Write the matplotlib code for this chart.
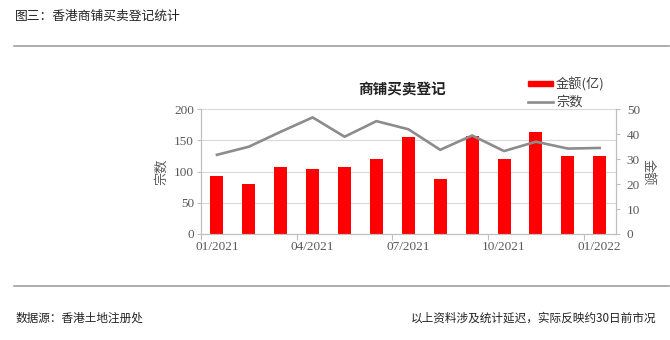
import matplotlib
matplotlib.use('Agg')
import matplotlib.pyplot as plt
from matplotlib.lines import Line2D
from matplotlib.patches import Rectangle

CJK = ['Noto Sans CJK SC', 'DejaVu Sans']
NUM = ['Liberation Serif', 'DejaVu Serif']

months = ['01/2021', '02/2021', '03/2021', '04/2021', '05/2021', '06/2021', '07/2021',
          '08/2021', '09/2021', '10/2021', '11/2021', '12/2021', '01/2022']
amount = [23.3, 19.9, 26.9, 26.1, 26.9, 29.9, 38.9, 21.9, 39.3, 30.2, 40.9, 31.4, 31.3]   # 金额(亿)
deals = [127, 140, 164, 187, 156, 181, 168, 135, 158, 133, 148, 137, 138]                 # 宗数

red = '#FF0000'
grey_line = '#8C8C8C'
axis_col = '#BFBFBF'
txt_col = '#595959'

fig = plt.figure(figsize=(6.7, 3.4), dpi=100)

# page header / footer
fig.text(15 / 670, 1 - 16 / 340, '图三：香港商铺买卖登记统计', family=CJK, fontsize=9.2,
         color='#222222', va='center', ha='left')
fig.add_artist(Line2D([14 / 670, 669 / 670], [1 - 46.3 / 340] * 2, color='#A0A0A0', lw=1.2))
fig.add_artist(Line2D([14 / 670, 669 / 670], [1 - 286.3 / 340] * 2, color='#A0A0A0', lw=1.2))
fig.text(15 / 670, 1 - 318 / 340, '数据源：香港土地注册处', family=CJK, fontsize=8.4,
         style='italic', color='#222222', va='center', ha='left')
fig.text(656 / 670, 1 - 318 / 340, '以上资料涉及统计延迟，实际反映约30日前市况', family=CJK,
         fontsize=8.4, style='italic', color='#222222', va='center', ha='right')

ax = fig.add_axes([201 / 670, 1 - 234 / 340, (615.7 - 201) / 670, (234 - 109.3) / 340])
ax2 = ax.twinx()

x = list(range(len(months)))
ax2.bar(x, amount, width=0.41, color=red, zorder=2)
ax.plot(x, deals, color=grey_line, lw=1.9, zorder=3)

ax.set_zorder(ax2.get_zorder() + 1)
ax.patch.set_visible(False)

ax.set_xlim(-0.5, len(months) - 0.5)
ax.set_ylim(0, 200)
ax.set_yticks([0, 50, 100, 150, 200])
ax2.set_ylim(0, 50)
ax2.set_yticks([0, 10, 20, 30, 40, 50])

# tick marks at month boundaries, labels at mid-month
ax.set_xticks([i - 0.5 for i in range(0, len(months), 3)])
ax.set_xticklabels([])
ax.set_xticks(x[::3], minor=True)
ax.set_xticklabels(months[::3], minor=True)
ax.tick_params(axis='x', which='major', length=4, color=axis_col, direction='out')
ax.tick_params(axis='x', which='minor', length=0, pad=5, labelsize=9.5, labelcolor=txt_col)

ax.tick_params(axis='y', length=3, color=axis_col, pad=2, labelsize=9.5, labelcolor=txt_col)
ax2.tick_params(axis='y', length=3, color=axis_col, pad=5, labelsize=9.5, labelcolor=txt_col)
for a in (ax, ax2):
    for lab in a.get_xticklabels(minor=True) + a.get_yticklabels():
        lab.set_family(NUM)
    a.spines['top'].set_visible(False)
    for s in ('left', 'right', 'bottom'):
        a.spines[s].set_color(axis_col)
        a.spines[s].set_linewidth(0.8)

# horizontal grid at the left-axis ticks, kept under the bars
for yv in [50, 100, 150, 200]:
    ax2.axhline(yv / 4, color='#D9D9D9', lw=0.8, zorder=0)

ax.set_ylabel('宗数', family=CJK, fontsize=9.5, color=txt_col, labelpad=4)
fig.text(648 / 670, 1 - 172 / 340, '金额', family=CJK, fontsize=9.5, color=txt_col,
         rotation=-90, va='center', ha='center')

fig.text(402 / 670, 1 - 89 / 340, '商铺买卖登记', family=CJK, fontsize=10.5,
         weight='bold', color='#222222', va='center', ha='center')

# legend
fig.add_artist(Rectangle((527.7 / 670, 1 - 86 / 340), 25.3 / 670, 4.8 / 340,
                         transform=fig.transFigure, color=red))
fig.text(556 / 670, 1 - 84 / 340, '金额(亿)', family=CJK, fontsize=9.5, color='#404040',
         va='center', ha='left')
fig.add_artist(Line2D([527.7 / 670, 553 / 670], [1 - 102.3 / 340] * 2, color=grey_line, lw=1.9))
fig.text(556 / 670, 1 - 102 / 340, '宗数', family=CJK, fontsize=9.5, color='#404040',
         va='center', ha='left')

fig.savefig('out.png', dpi=100)
